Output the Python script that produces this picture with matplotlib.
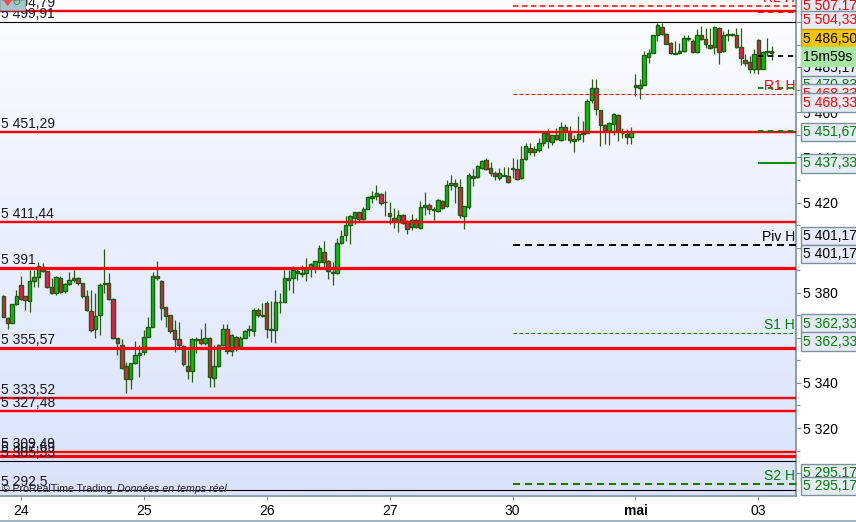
#===============================================================================
# Candlestick chart with pivot levels, ProRealTime look
#===============================================================================
import matplotlib
matplotlib.use("Agg")
import matplotlib.pyplot as plt
import numpy as np
from matplotlib.colors import LinearSegmentedColormap
from matplotlib.patches import Rectangle
from matplotlib.ticker import FuncFormatter, MultipleLocator

opens = [
    5378.6,5368.6,5366.7,5374.9,5383.3,5378.4,5376.5,5385.4,5386.9,5391.6,
    5389.5,5382.4,5379.8,5386.4,5380.9,5383.8,5385.5,5386.3,5384.2,5378.4,
    5371.8,5363.8,5370.0,5383.9,5384.2,5377.1,5359.8,5356.9,5347.5,5341.6,
    5348.7,5352.2,5353.7,5360.5,5364.9,5387.3,5385.4,5373.5,5370.0,5363.3,
    5359.3,5356.5,5347.6,5345.1,5359.0,5359.3,5357.5,5359.8,5342.0,5347.5,
    5356.8,5364.1,5354.3,5360.5,5356.1,5359.8,5363.5,5362.9,5372.2,5369.7,
    5375.3,5363.8,5363.5,5376.0,5376.0,5386.4,5386.4,5389.8,5388.2,5388.6,
    5390.4,5391.6,5393.8,5398.2,5394.2,5388.6,5388.6,5401.9,5405.8,5409.9,
    5413.2,5415.7,5412.6,5417.3,5421.8,5423.1,5423.7,5420.1,5415.3,5413.3,
    5412.0,5414.4,5411.6,5409.0,5412.4,5408.6,5418.2,5418.8,5417.3,5416.1,
    5420.6,5418.4,5427.7,5428.6,5426.8,5413.9,5417.9,5431.7,5431.3,5435.3,
    5438.8,5435.5,5433.0,5430.7,5431.8,5431.6,5434.9,5434.9,5430.9,5439.5,
    5444.2,5442.3,5443.2,5446.4,5450.9,5446.7,5450.0,5447.6,5453.5,5451.6,
    5447.3,5448.2,5450.4,5450.9,5465.4,5470.9,5461.1,5454.4,5451.6,5454.7,
    5458.9,5450.9,5450.4,5448.9,5472.2,5470.8,5472.2,5484.5,5486.4,5494.1,
    5498.0,5494.8,5490.8,5486.0,5486.1,5487.1,5492.9,5491.7,5486.8,5494.3,
    5492.6,5490.0,5488.8,5497.5,5487.3,5494.3,5494.4,5494.4,5488.9,5483.1,
    5482.3,5479.3,5492.2,5479.3,5486.8,5487.1,
]
closes = [
    5369.4,5366.7,5374.9,5378.4,5377.4,5376.9,5385.2,5386.9,5391.9,5389.8,
    5382.4,5379.8,5386.9,5380.5,5383.8,5385.5,5386.3,5384.2,5378.4,5372.2,
    5363.3,5369.8,5383.3,5384.2,5377.1,5359.8,5357.5,5346.4,5341.6,5348.7,
    5352.2,5353.4,5360.2,5364.9,5387.3,5386.4,5373.1,5369.5,5362.9,5359.3,
    5356.9,5348.2,5345.1,5359.3,5359.3,5357.5,5360.1,5342.4,5347.5,5356.9,
    5364.1,5354.3,5361.4,5355.8,5359.9,5362.9,5363.8,5372.2,5370.0,5370.0,
    5363.8,5363.5,5375.8,5375.7,5386.4,5385.6,5390.1,5388.9,5388.6,5390.4,
    5392.6,5393.9,5399.7,5393.8,5389.6,5389.1,5401.9,5405.0,5409.9,5413.9,
    5415.7,5412.6,5417.3,5422.4,5422.8,5424.1,5419.6,5420.4,5413.9,5411.6,
    5414.4,5411.1,5408.2,5412.4,5409.0,5417.9,5418.7,5417.3,5416.7,5421.3,
    5417.5,5427.7,5428.6,5427.3,5414.4,5418.4,5432.1,5430.8,5436.1,5438.4,
    5434.8,5433.0,5431.7,5433.0,5432.1,5429.3,5435.2,5430.4,5439.3,5444.9,
    5442.4,5443.8,5446.4,5450.9,5447.2,5450.0,5448.2,5453.5,5451.6,5447.8,
    5448.2,5450.4,5450.7,5465.1,5470.9,5461.4,5454.4,5451.5,5455.3,5459.3,
    5451.5,5451.0,5448.9,5451.2,5471.3,5472.2,5485.2,5486.4,5494.1,5498.5,
    5494.8,5490.4,5486.4,5486.4,5487.3,5493.1,5492.3,5486.8,5494.4,5492.6,
    5490.4,5488.6,5498.0,5486.8,5494.4,5494.7,5494.7,5488.9,5484.2,5482.0,
    5479.0,5485.8,5479.3,5486.8,5487.1,5486.4,
]
highs = [
    5379.0,5369.1,5375.0,5381.2,5387.5,5378.4,5390.1,5390.1,5393.8,5393.1,
    5389.8,5386.4,5387.2,5387.2,5384.2,5389.4,5390.1,5386.9,5384.5,5381.2,
    5381.2,5379.8,5384.5,5399.5,5388.6,5377.5,5359.8,5359.3,5349.4,5348.7,
    5358.7,5356.8,5363.5,5369.4,5389.4,5394.1,5385.7,5373.5,5370.0,5367.9,
    5367.2,5356.8,5354.6,5359.8,5360.5,5363.8,5366.7,5360.2,5356.8,5357.2,
    5366.0,5366.0,5361.7,5360.8,5360.8,5363.5,5365.7,5373.1,5373.1,5375.3,
    5376.1,5376.1,5381.2,5379.7,5390.1,5390.1,5391.9,5391.6,5392.3,5395.3,
    5393.1,5394.2,5401.2,5403.0,5394.5,5393.8,5404.2,5407.9,5414.1,5414.5,
    5416.0,5416.0,5417.9,5423.0,5424.9,5427.8,5424.4,5424.9,5420.1,5417.5,
    5416.7,5414.7,5412.3,5415.0,5413.0,5420.7,5424.6,5419.7,5417.9,5421.6,
    5420.9,5430.1,5432.3,5430.4,5430.5,5418.5,5433.0,5435.0,5436.7,5438.7,
    5439.7,5437.8,5433.8,5435.3,5435.7,5435.7,5439.8,5439.3,5445.2,5446.4,
    5446.4,5445.2,5448.6,5451.6,5452.6,5450.1,5453.1,5455.9,5454.6,5454.1,
    5450.1,5458.3,5456.0,5465.7,5474.9,5474.6,5461.2,5454.6,5455.6,5459.7,
    5459.2,5453.1,5452.6,5453.5,5476.8,5474.9,5487.1,5487.9,5494.5,5499.7,
    5499.4,5495.3,5491.1,5491.6,5490.8,5494.1,5494.1,5492.6,5497.1,5498.3,
    5497.5,5497.5,5498.3,5498.0,5496.0,5497.1,5495.3,5497.5,5497.5,5485.7,
    5484.9,5487.9,5492.6,5487.1,5493.1,5489.4,
]
lows = [
    5369.1,5363.8,5366.4,5374.6,5376.8,5372.4,5371.6,5382.7,5382.7,5389.4,
    5382.0,5379.5,5379.0,5379.8,5379.8,5383.5,5384.9,5383.5,5377.5,5371.9,
    5362.7,5359.8,5361.2,5379.8,5376.8,5359.3,5352.4,5346.0,5335.6,5337.1,
    5348.4,5342.4,5352.4,5360.5,5364.6,5385.7,5367.9,5364.9,5362.0,5353.8,
    5356.1,5347.5,5341.6,5340.5,5353.1,5356.8,5356.8,5338.0,5338.3,5347.2,
    5356.4,5352.8,5351.9,5354.3,5355.8,5359.8,5360.8,5360.8,5369.4,5369.4,
    5359.8,5358.3,5357.5,5371.0,5375.7,5381.2,5380.0,5385.6,5386.8,5385.4,
    5387.1,5388.6,5390.8,5390.8,5386.2,5383.4,5388.3,5401.6,5403.1,5401.6,
    5410.5,5412.0,5412.3,5417.0,5419.7,5421.2,5419.0,5414.1,5410.5,5408.6,
    5406.7,5410.5,5406.1,5407.9,5408.6,5408.3,5414.5,5415.0,5412.3,5415.8,
    5417.0,5417.9,5425.6,5419.7,5413.2,5408.3,5417.3,5427.4,5430.8,5434.8,
    5434.5,5431.8,5429.8,5430.1,5431.8,5428.6,5430.9,5430.1,5430.4,5439.0,
    5441.2,5440.8,5442.3,5445.2,5444.2,5445.7,5447.6,5447.2,5447.9,5446.4,
    5442.3,5447.2,5446.7,5450.6,5464.2,5459.0,5444.9,5446.1,5445.7,5450.1,
    5447.2,5448.6,5446.1,5446.1,5467.4,5466.0,5471.9,5482.0,5486.1,5491.6,
    5494.1,5490.1,5485.7,5485.7,5485.7,5486.7,5491.6,5486.4,5486.4,5492.0,
    5488.6,5488.2,5485.7,5481.2,5486.7,5491.6,5493.8,5488.6,5480.8,5480.5,
    5477.5,5477.5,5477.2,5479.0,5484.9,5483.0,
]
assert len(opens) == len(closes) == len(highs) == len(lows)

day_pos = [4, 32, 60, 88, 116, 144, 172]
day_labels = ["24", "25", "26", "27", "30", "mai", "03"]

# support/resistance lines over the whole chart
red_levels = [5504.79, 5451.29, 5411.44, 5391.0, 5355.57, 5333.52, 5327.48, 5309.49, 5307.69]
red_labels = ["5 504,79", "5 451,29", "5 411,44", "5 391", "5 355,57", "5 333,52", "5 327,48", "5 309,49", "5 307,69"]
red_widths = [2.4, 2.4, 2.4, 3.2, 3.2, 2.4, 2.4, 2.4, 3.2]
black_levels = [5499.91, 5305.33, 5292.5]
black_labels = ["5 499,91", "5 305,33", "5 292,5"]

# pivot levels, drawn from the start of the 30th
piv_levels = [5507.17, 5468.33, 5401.17, 5362.33, 5295.17]
piv_names = ["R2 H", "R1 H", "Piv H", "S1 H", "S2 H"]
piv_colors = ["#ff0000", "#ff0000", "#000000", "#008000", "#008000"]
piv_widths = [1.5, 1, 2, 1, 2]

# short segments from the last day
short_levels = [5504.33, 5485.17, 5470.83, 5451.67, 5437.33]
short_colors = ["#ff0000", "#000000", "#008000", "#008000", "#008000"]
short_styles = ["--", "--", "--", "--", "-"]

# right hand value boxes: text, price, colour, pixel shift, face
box_texts = ["5 507,17", "5 504,33", "5 485,17", "5 470,83", "5 468,33", "5 468,33", "5 451,67", "5 437,33",
             "5 401,17", "5 401,17", "5 362,33", "5 362,33", "5 295,17", "5 295,17"]
box_prices = [5507.17, 5504.33, 5485.17, 5470.83, 5468.33, 5468.33, 5451.67, 5437.33,
              5401.17, 5401.17, 5362.33, 5362.33, 5295.17, 5295.17]
box_colors = ["#ff0000", "#ff0000", "#000000", "#008000", "#ff0000", "#ff0000", "#008000", "#008000",
              "#000000", "#000000", "#008000", "#008000", "#008000", "#008000"]
box_shift = [0, -8, -12, 3, 0, -9, -1, 0, 9, -9, 9, -9, 11, -2]

last_price = 5486.5
W, H = 856, 522
px_per_bar = 4.39
FONT = "Liberation Sans"

plt.rcParams["font.family"] = [FONT, "DejaVu Sans"]
fig = plt.figure(figsize=(W / 100, H / 100), dpi=100, facecolor="white")
ax = fig.add_axes([0, (H - 495.5) / H, 796 / W, 495.5 / H])

# background gradient
cmap = LinearSegmentedColormap.from_list("bg", ["#fdfdff", "#e9effe", "#dae3fb"])
ax.imshow(np.linspace(0, 1, 256).reshape(-1, 1), cmap=cmap, extent=[0, 1, 0, 1],
          transform=ax.transAxes, aspect="auto", zorder=0)

# candles
x = np.arange(len(opens))
opens_a, closes_a = np.array(opens), np.array(closes)
up = closes_a >= opens_a
ax.vlines(x, lows, highs, color="#2d5a10", lw=0.9, zorder=2)
ax.bar(x, closes_a - opens_a, bottom=opens_a, width=0.8,
       color=np.where(up, "#08c408", "#f01a50"), edgecolor="#1f5c10", linewidth=1.0, zorder=3)

x_right = (796 - 3.3) / px_per_bar
ax.set_xlim(-3.3 / px_per_bar, x_right)
ax.set_ylim(5380 - 202.8 / 2.255, 5380 + 292.7 / 2.255)

# full width lines and their left labels
left_x = ax.get_yaxis_transform()
for price, label, w in zip(red_levels, red_labels, red_widths):
    ax.axhline(price, color="#ff0000", lw=w * 0.72, zorder=4)
    ax.annotate(label, (0, price), xycoords=left_x, xytext=(1, 8), textcoords="offset pixels",
                fontsize=10, va="center", color="#1a1a1a", zorder=5)
for price, label in zip(black_levels, black_labels):
    ax.axhline(price, color="#000000", lw=0.8, zorder=4)
    ax.annotate(label, (0, price), xycoords=left_x, xytext=(1, 8), textcoords="offset pixels",
                fontsize=10, va="center", color="#1a1a1a", zorder=5)

# pivots
for price, name, c, w in zip(piv_levels, piv_names, piv_colors, piv_widths):
    ax.hlines(price, 116, x_right, color=c, lw=w * 0.72, linestyles=(0, (3.5, 2.5)), zorder=4)
    ax.annotate(name, (1, price), xycoords=left_x, xytext=(-1, 8), textcoords="offset pixels",
                fontsize=10, va="center", ha="right", color=c, zorder=5)

for price, c, st in zip(short_levels, short_colors, short_styles):
    ax.hlines(price, 172, x_right, color=c, lw=1.3, linestyles=st if st == "-" else (0, (3, 2.5)), zorder=4)

# axes
for s in ("top", "left"):
    ax.spines[s].set_visible(False)
for s in ("right", "bottom"):
    ax.spines[s].set_color("#7d909c")
    ax.spines[s].set_linewidth(1.2)

ax.yaxis.tick_right()
ax.yaxis.set_major_locator(MultipleLocator(20))
ax.yaxis.set_minor_locator(MultipleLocator(10))
ax.yaxis.set_major_formatter(FuncFormatter(lambda v, pos: f"{v:,.0f}".replace(",", " ")))
ax.tick_params(axis="y", which="major", length=3.5, width=0.8, color="#7d909c", pad=1.5, labelsize=10)
ax.tick_params(axis="y", which="minor", length=3, width=0.8, color="#7d909c")
ax.set_xticks(day_pos)
ax.set_xticklabels(day_labels, fontsize=10)
ax.get_xticklabels()[5].set_fontweight("bold")
ax.tick_params(axis="x", length=3, width=0.8, color="#7d909c", pad=3)

# value boxes
for text, price, c, dy in zip(box_texts, box_prices, box_colors, box_shift):
    ax.annotate(text, (1, price), xycoords=left_x, xytext=(7, dy), textcoords="offset pixels",
                fontsize=10, va="center", color=c, zorder=6, annotation_clip=False,
                bbox=dict(boxstyle="square,pad=0.17", fc="#e6ecf7", ec="#7d909c", lw=1))
ax.annotate("5 486,50", (1, last_price), xycoords=left_x, xytext=(7, 14), textcoords="offset pixels",
            fontsize=10, va="center", color="#000000", zorder=7, annotation_clip=False,
            bbox=dict(boxstyle="square,pad=0.17", fc="#f7c600", ec="#c09a20", lw=1))
ax.annotate("15m59s", (1, last_price), xycoords=left_x, xytext=(7, -4), textcoords="offset pixels",
            fontsize=10, va="center", color="#000000", zorder=7, annotation_clip=False,
            bbox=dict(boxstyle="square,pad=0.17", fc="#a6e8a2", ec="#a6e8a2", lw=1))

# footer text
fig.text(2 / W, 1 - 489 / H, "© ProRealTime Trading", fontsize=7.6, va="center", color="#222222")
fig.text(117 / W, 1 - 489 / H, "Données en temps réel", fontsize=7.7, va="center", style="italic", color="#222222")

# little icon top left and the bottom rule of the window
fig.add_artist(Rectangle((0, 1 - 10 / H), 25 / W, 10 / H, transform=fig.transFigure, fc="#a9c3cb", ec="#8aa0aa", lw=0.6, zorder=8))
fig.text(8 / W, 1 - 3 / H, "♥", color="#e85050", fontsize=9, ha="center", va="center", family="DejaVu Sans", zorder=9)
fig.text(16 / W, 1 - 3 / H, "↻", color="#20a020", fontsize=8, ha="center", va="center", family="DejaVu Sans", zorder=9)
fig.add_artist(Rectangle((0, 0), 1, 2.5 / H, transform=fig.transFigure, fc="#9fb4be", ec="none", zorder=8))

fig.savefig("out.png", dpi=100)
